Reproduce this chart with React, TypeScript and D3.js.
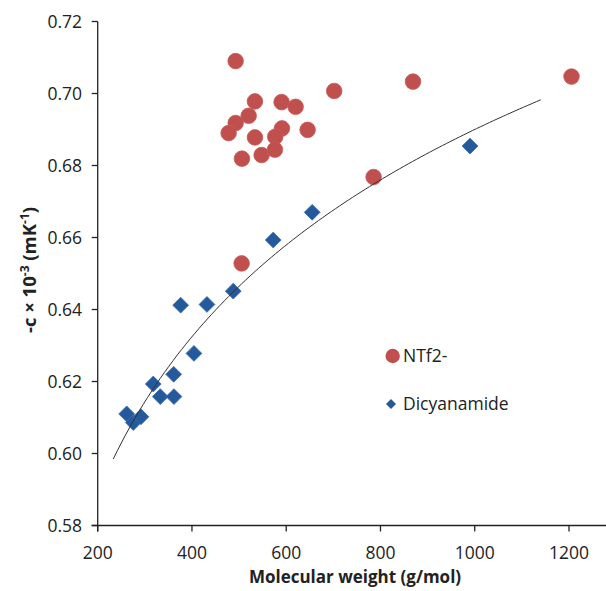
import React from "react";
import * as d3 from "d3";

// NTf2- series
const ntf2X = [492.7, 701.8, 533.6, 590.2, 619.9, 520.3, 492.7, 477.8, 590.9, 645.4, 533.6, 576.7, 506, 547.8, 576, 785.4, 505.4, 1205.3, 869];
const ntf2Y = [0.709, 0.7007, 0.6978, 0.6976, 0.6963, 0.6938, 0.6918, 0.689, 0.6903, 0.6899, 0.6878, 0.688, 0.6819, 0.6829, 0.6844, 0.6768, 0.6528, 0.7047, 0.7033];
// Dicyanamide series
const dicX = [376, 431.8, 487.6, 404.2, 361.2, 317.9, 332.8, 361.8, 261.5, 275.5, 291.8, 572.4, 655.1, 990];
const dicY = [0.6412, 0.6414, 0.6451, 0.6278, 0.622, 0.6193, 0.6158, 0.6158, 0.611, 0.6086, 0.6102, 0.6593, 0.667, 0.6854];

const xTicks = [200, 400, 600, 800, 1000, 1200];
const yTicks = [0.58, 0.6, 0.62, 0.64, 0.66, 0.68, 0.7, 0.72];
const trendStart = 233;
const trendEnd = 1140;
const seriesNames = ["NTf2-", "Dicyanamide"];

const W = 606;
const H = 591;
const FONT = "'Open Sans', 'Noto Sans', sans-serif";

export default function App() {
  const x = d3.scaleLinear().domain([200, 1200]).range([97.7, 569]);
  const y = d3.scaleLinear().domain([0.58, 0.72]).range([525.5, 21.5]);

  // logarithmic least-squares trendline on the Dicyanamide data
  const lx = dicX.map((v) => Math.log(v));
  const mx = d3.mean(lx) as number;
  const my = d3.mean(dicY) as number;
  let sxy = 0, sxx = 0;
  lx.forEach((v, i) => {
    sxy += (v - mx) * (dicY[i] - my);
    sxx += (v - mx) * (v - mx);
  });
  const slope = sxy / sxx;
  const icpt = my - slope * mx;
  const trendXs = d3.range(0, 101).map((i) => trendStart + ((trendEnd - trendStart) * i) / 100);
  const line = d3
    .line<number>()
    .x((v) => x(v))
    .y((v) => y(slope * Math.log(v) + icpt));

  const diamond = d3.symbol().type(d3.symbolSquare).size(125)() as string;

  const x0 = x(200);
  const yb = y(0.58);

  return (
    <svg width={W} height={H} style={{ position: "absolute", left: 0, top: 0, background: "#fff" }} fontFamily={FONT}>
      {/* axes */}
      <line x1={x0} x2={x0} y1={y(0.72)} y2={yb + 6} stroke="#222" strokeWidth={1.3} />
      <line x1={x0 - 6} x2={W} y1={yb} y2={yb} stroke="#222" strokeWidth={1.3} />
      {yTicks.map((t) => (
        <g key={"y" + t}>
          <line x1={x0 - 6} x2={x0} y1={y(t)} y2={y(t)} stroke="#222" strokeWidth={1.3} />
          <text x={82} y={y(t)} dy="0.35em" textAnchor="end" fontSize={17.5} fill="#222">
            {t.toFixed(2)}
          </text>
        </g>
      ))}
      {xTicks.map((t) => (
        <g key={"x" + t}>
          <line x1={x(t)} x2={x(t)} y1={yb} y2={yb + 6} stroke="#222" strokeWidth={1.3} />
          <text x={x(t)} y={553} dy="0.35em" textAnchor="middle" fontSize={17.5} fill="#222">
            {t}
          </text>
        </g>
      ))}
      <text x={355} y={577} dy="0.35em" textAnchor="middle" fontSize={17} fontWeight="bold" fill="#222">
        Molecular weight (g/mol)
      </text>
      <text transform="translate(30,270) rotate(-90)" textAnchor="middle" dy="0.35em" fontSize={18.5} fontWeight="bold" fill="#222">
        -c × 10<tspan fontSize={12} dy="-7">-3</tspan>
        <tspan dy="7"> (mK</tspan>
        <tspan fontSize={12} dy="-7">-1</tspan>
        <tspan dy="7">)</tspan>
      </text>

      {/* NTf2- circles */}
      {ntf2X.map((v, i) => (
        <circle key={"c" + i} cx={x(v)} cy={y(ntf2Y[i])} r={7.8} fill="#C0504D" stroke="#C75B58" strokeWidth={0.8} />
      ))}
      {/* Dicyanamide diamonds */}
      {dicX.map((v, i) => (
        <path
          key={"d" + i}
          d={diamond}
          transform={`translate(${x(v)},${y(dicY[i])}) rotate(45)`}
          fill="#245A9C"
          stroke="#3B6DAE"
          strokeWidth={0.8}
        />
      ))}
      {/* trendline */}
      <path d={line(trendXs) as string} fill="none" stroke="#333" strokeWidth={1} />

      {/* legend */}
      <circle cx={392.7} cy={356} r={7.2} fill="#C0504D" />
      <text x={403} y={356} dy="0.35em" fontSize={17.5} fill="#222">
        {seriesNames[0]}
      </text>
      <path d={d3.symbol().type(d3.symbolSquare).size(50)() as string} transform="translate(391,404) rotate(45)" fill="#245A9C" />
      <text x={403} y={404} dy="0.35em" fontSize={17.5} fill="#222">
        {seriesNames[1]}
      </text>
    </svg>
  );
}
